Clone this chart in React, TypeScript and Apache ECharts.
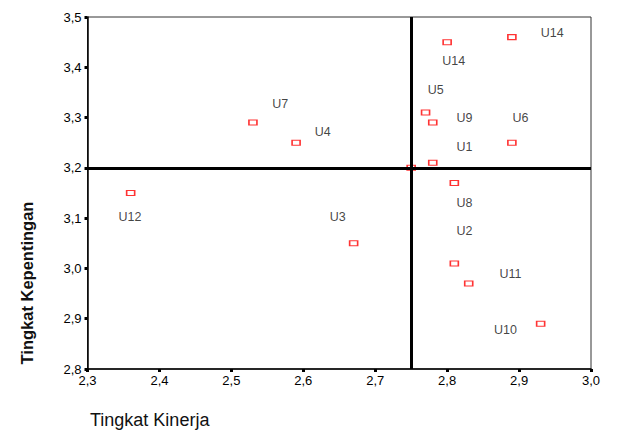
import React, { useEffect, useRef } from "react";
import * as echarts from "echarts";

const kinerja = [2.53, 2.59, 2.36, 2.8, 2.89, 2.77, 2.78, 2.89, 2.78, 2.75, 2.81, 2.67, 2.81, 2.83, 2.93];
const kepentingan = [3.29, 3.25, 3.15, 3.45, 3.46, 3.31, 3.29, 3.25, 3.21, 3.2, 3.17, 3.05, 3.01, 2.97, 2.89];

const labelNames = ["U14", "U14", "U5", "U9", "U6", "U1", "U7", "U4", "U12", "U3", "U8", "U2", "U11", "U10"];
const labelX = [2.946, 2.809, 2.784, 2.824, 2.902, 2.824, 2.568, 2.627, 2.359, 2.648, 2.824, 2.824, 2.888, 2.881];
const labelY = [3.468, 3.412, 3.355, 3.3, 3.3, 3.242, 3.326, 3.271, 3.102, 3.102, 3.13, 3.075, 2.989, 2.877];

const meanKinerja = 2.752;
const meanKepentingan = 3.197;

const xTitle = "Tingkat Kinerja";
const yTitle = "Tingkat Kepentingan";

const fmt = (v: number) => v.toFixed(1).replace(".", ",");

export default function App() {
  const ref = useRef<HTMLDivElement>(null);
  useEffect(() => {
    if (!ref.current) return;
    const chart = echarts.init(ref.current, undefined, { renderer: "svg" });
    const font = "Liberation Sans, Arial, sans-serif";
    chart.setOption({
      animation: false,
      backgroundColor: "#ffffff",
      grid: {
        left: 87.5,
        right: 26,
        top: 17,
        bottom: 63,
        show: true,
        borderColor: "#333",
        borderWidth: 1,
      },
      xAxis: {
        type: "value",
        min: 2.3,
        max: 3.0,
        interval: 0.1,
        splitLine: { show: false },
        axisLine: { lineStyle: { color: "#000", width: 1.5 } },
        axisTick: { show: true, length: 3, lineStyle: { color: "#000", width: 3 } },
        axisLabel: { color: "#000", fontSize: 13, fontFamily: font, margin: 5, formatter: fmt },
      },
      yAxis: {
        type: "value",
        min: 2.8,
        max: 3.5,
        interval: 0.1,
        splitLine: { show: false },
        axisLine: { lineStyle: { color: "#000", width: 1.5 } },
        axisTick: { show: true, length: 3, lineStyle: { color: "#000", width: 3 } },
        axisLabel: { color: "#000", fontSize: 13, fontFamily: font, margin: 6, formatter: fmt },
      },
      graphic: [
        {
          type: "text",
          left: 90,
          top: 411,
          style: { text: xTitle, fontSize: 18, fontFamily: font, fill: "#111" },
        },
        {
          type: "text",
          x: 27,
          y: 283,
          rotation: Math.PI / 2,
          style: {
            text: yTitle,
            fontSize: 16.5,
            fontWeight: "bold",
            fontFamily: font,
            fill: "#111",
            align: "center",
            verticalAlign: "middle",
          },
        },
      ],
      series: [
        {
          type: "scatter",
          symbol: "rect",
          symbolSize: [8, 5],
          itemStyle: { color: "#fff", borderColor: "#ff0000", borderWidth: 1.3 },
          data: kinerja.map((x, i) => [x, kepentingan[i]]),
          z: 2,
          markLine: {
            silent: true,
            symbol: "none",
            label: { show: false },
            lineStyle: { color: "#000", width: 3, type: "solid" },
            data: [{ xAxis: meanKinerja }, { yAxis: meanKepentingan }],
          },
        },
        {
          type: "scatter",
          symbolSize: 0,
          silent: true,
          data: labelNames.map((n, i) => ({ name: n, value: [labelX[i], labelY[i]] })),
          label: {
            show: true,
            position: "inside",
            formatter: (p: any) => p.name,
            color: "#111",
            fontSize: 12.5,
            fontFamily: font,
          },
          z: 3,
        },
      ],
    });
    return () => chart.dispose();
  }, []);
  return <div ref={ref} style={{ position: "fixed", left: 0, top: 0, width: 617, height: 432 }} />;
}
